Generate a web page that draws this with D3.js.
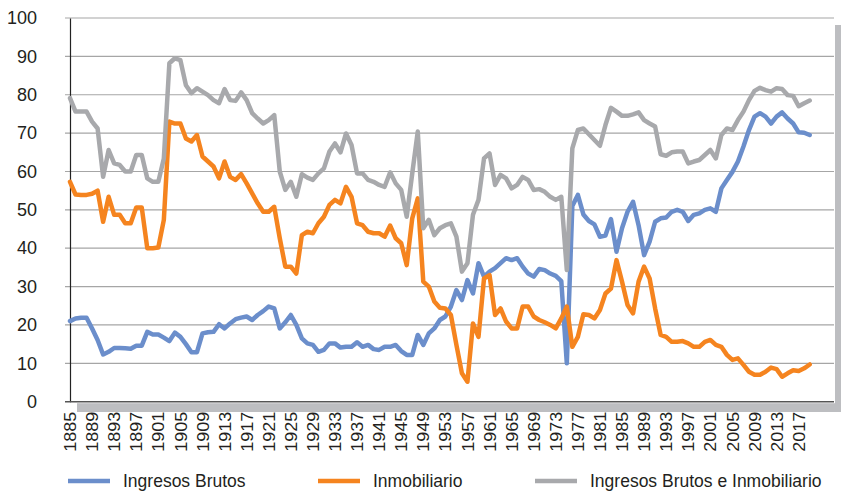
<!DOCTYPE html>
<html>
<head>
<meta charset="utf-8">
<script src="https://cdn.jsdelivr.net/npm/d3@7"></script>
<style>
  html, body { margin: 0; padding: 0; background: #fff; }
  svg { display: block; }
</style>
</head>
<body>
<div id="chart"></div>
<script>
// Años 1885–2019 (una observación por año)
const firstYear = 1885;
const lastYear = 2019;

const ingresosBrutos = [
  21.0, 21.7, 21.9, 21.9, 19.1, 16.1, 12.3, 13.0, 14.0, 14.0,
  13.9, 13.8, 14.6, 14.6, 18.2, 17.5, 17.5, 16.7, 15.8, 18.0,
  16.9, 15.0, 12.9, 12.9, 17.8, 18.1, 18.2, 20.2, 19.1, 20.4,
  21.5, 21.9, 22.2, 21.3, 22.6, 23.6, 24.8, 24.3, 19.1, 20.7,
  22.6, 20.0, 16.5, 15.2, 14.8, 13.0, 13.5, 15.2, 15.2, 14.1,
  14.3, 14.3, 15.5, 14.3, 14.8, 13.7, 13.5, 14.3, 14.3, 14.8,
  13.2, 12.2, 12.2, 17.4, 14.8, 17.8, 19.1, 21.3, 22.2, 24.8,
  29.1, 26.5, 31.7, 28.2, 36.1, 32.6, 33.9, 34.8, 36.1, 37.4,
  36.9, 37.4, 35.2, 33.4, 32.6, 34.6, 34.3, 33.4, 32.8, 31.4,
  10.0, 51.0, 53.9, 48.8, 47.1, 46.2, 43.0, 43.3, 47.6, 39.1,
  45.2, 49.5, 52.1, 46.0, 38.2, 41.7, 46.9, 47.8, 48.0, 49.5,
  50.0, 49.5, 47.1, 48.7, 49.1, 50.0, 50.4, 49.5, 55.6, 57.8,
  59.9, 62.6, 66.5, 70.8, 74.3, 75.2, 74.3, 72.5, 74.3, 75.4,
  73.8, 72.5, 70.2, 70.1, 69.5
];

const inmobiliario = [
  57.3, 54.0, 53.9, 53.9, 54.2, 55.0, 46.9, 53.4, 48.7, 48.7,
  46.5, 46.5, 50.6, 50.6, 40.0, 40.0, 40.2, 47.4, 73.0, 72.5,
  72.5, 68.6, 67.8, 69.5, 63.9, 62.6, 61.3, 58.2, 62.6, 58.6,
  57.8, 59.3, 56.9, 54.3, 51.7, 49.5, 49.5, 50.8, 42.6, 35.2,
  35.2, 33.4, 43.4, 44.3, 43.9, 46.5, 48.2, 51.3, 52.6, 51.7,
  56.0, 53.4, 46.5, 46.0, 44.3, 43.9, 43.9, 43.0, 45.9, 42.6,
  41.3, 35.6, 47.8, 53.0, 31.3, 30.0, 26.1, 24.5, 24.3, 22.6,
  14.8, 7.4, 5.2, 20.4, 16.9, 32.1, 33.0, 22.6, 24.3, 20.9,
  19.1, 19.1, 24.8, 24.8, 22.2, 21.3, 20.7, 20.0, 19.1, 21.7,
  24.8, 14.3, 16.9, 22.8, 22.6, 21.7, 23.9, 28.2, 29.5, 36.9,
  31.3, 25.2, 23.0, 31.3, 35.2, 32.1, 24.3, 17.4, 16.9, 15.6,
  15.6, 15.8, 15.2, 14.3, 14.3, 15.6, 16.1, 14.8, 14.3, 12.2,
  10.9, 11.3, 9.6, 7.8, 7.0, 7.0, 7.8, 8.9, 8.5, 6.5,
  7.4, 8.2, 8.0, 8.7, 9.7
];

const ambos = [
  79.1, 75.6, 75.6, 75.6, 73.0, 71.2, 58.6, 65.6, 62.1, 61.7,
  60.0, 60.0, 64.3, 64.3, 58.2, 57.3, 57.3, 63.4, 88.2, 89.5,
  89.0, 82.5, 80.4, 81.7, 80.8, 79.9, 78.6, 77.8, 81.5, 78.6,
  78.4, 80.6, 78.6, 75.2, 73.8, 72.5, 73.4, 74.7, 60.0, 55.2,
  57.3, 53.4, 59.3, 58.4, 57.8, 59.5, 60.8, 65.2, 67.3, 65.0,
  69.9, 66.9, 59.5, 59.5, 57.8, 57.3, 56.5, 56.0, 59.8, 56.9,
  55.2, 48.2, 59.5, 70.4, 45.2, 47.4, 43.4, 45.2, 46.0, 46.5,
  43.0, 33.9, 36.1, 48.7, 52.6, 63.4, 64.7, 56.5, 59.1, 58.2,
  55.6, 56.5, 58.6, 57.8, 55.2, 55.4, 54.7, 53.4, 52.6, 53.4,
  34.3, 66.0, 70.8, 71.2, 69.7, 68.2, 66.7, 72.1, 76.6, 75.6,
  74.5, 74.5, 74.9, 75.4, 73.4, 72.5, 71.7, 64.5, 64.1, 65.0,
  65.2, 65.2, 62.1, 62.6, 63.0, 64.3, 65.6, 63.4, 69.5, 71.2,
  70.8, 73.4, 75.6, 78.6, 81.0, 81.8, 81.2, 80.8, 81.7, 81.5,
  79.9, 79.7, 77.0, 77.8, 78.5
];

const tickYears = [
  1885, 1889, 1893, 1897, 1901, 1905, 1909, 1913, 1917, 1921, 1925,
  1929, 1933, 1937, 1941, 1945, 1949, 1953, 1957, 1961, 1965, 1969,
  1973, 1977, 1981, 1985, 1989, 1993, 1997, 2001, 2005, 2009, 2013, 2017
];
const yTicks = [0, 10, 20, 30, 40, 50, 60, 70, 80, 90, 100];

const seriesNames = ["Ingresos Brutos", "Inmobiliario", "Ingresos Brutos e Inmobiliario"];
const seriesColors = ["#6b8ecb", "#f5841f", "#a8a9ac"];
const seriesValues = [ingresosBrutos, inmobiliario, ambos];

const years = d3.range(firstYear, lastYear + 1);
const series = seriesNames.map((name, i) => ({
  name,
  color: seriesColors[i],
  points: years.map((yr, j) => ({ year: yr, value: seriesValues[i][j] }))
}));

const W = 841, H = 495;
const plot = { left: 70, right: 834, top: 18, bottom: 401.7 };
const font = "'Liberation Sans', Arial, sans-serif";

const svg = d3.select("#chart").append("svg")
  .attr("width", W)
  .attr("height", H);

const x = d3.scaleLinear()
  .domain([firstYear, lastYear])
  .range([plot.left, 809.7]);

const y = d3.scaleLinear()
  .domain([0, 100])
  .range([plot.bottom, plot.top]);

// Sombra del área de gráfico
svg.append("rect")
  .attr("x", plot.right + 1).attr("y", 25)
  .attr("width", W - plot.right - 1).attr("height", 412 - 25)
  .attr("fill", "#bdbec1");
svg.append("rect")
  .attr("x", 77).attr("y", plot.bottom + 1.5)
  .attr("width", W - 77).attr("height", 412 - plot.bottom - 1.5)
  .attr("fill", "#bdbec1");

// Grilla horizontal
svg.append("g")
  .selectAll("line")
  .data(yTicks.filter(d => d > 0))
  .join("line")
  .attr("x1", plot.left - 5).attr("x2", plot.right)
  .attr("y1", d => y(d)).attr("y2", d => y(d))
  .attr("stroke", "#a6a6a6")
  .attr("stroke-width", 1.2);

// Eje Y
const yAxis = svg.append("g")
  .attr("transform", `translate(${plot.left},0)`)
  .call(d3.axisLeft(y).tickValues(yTicks).tickSize(0).tickPadding(33));
yAxis.select(".domain")
  .attr("stroke", "#222")
  .attr("stroke-width", 1.2);
yAxis.selectAll("text")
  .attr("font-family", font)
  .attr("font-size", "18px")
  .attr("fill", "#231f20");

// Eje X
svg.append("line")
  .attr("x1", plot.left - 5).attr("x2", plot.right)
  .attr("y1", plot.bottom).attr("y2", plot.bottom)
  .attr("stroke", "#555")
  .attr("stroke-width", 1.6);

const xAxis = svg.append("g")
  .attr("transform", `translate(0,${plot.bottom})`)
  .call(d3.axisBottom(x).tickValues(tickYears).tickFormat(d3.format("d")).tickSize(0));
xAxis.select(".domain").remove();
xAxis.selectAll("text")
  .attr("font-family", font)
  .attr("font-size", "16px")
  .attr("fill", "#231f20")
  .attr("text-anchor", "end")
  .attr("transform", "rotate(-90)")
  .attr("x", -10)
  .attr("y", 0)
  .attr("dy", "0.35em")
  .attr("textLength", 40)
  .attr("lengthAdjust", "spacingAndGlyphs");

// Líneas
const line = d3.line()
  .x(d => x(d.year))
  .y(d => y(d.value));

svg.append("g")
  .selectAll("path")
  .data(series)
  .join("path")
  .attr("d", d => line(d.points))
  .attr("fill", "none")
  .attr("stroke", d => d.color)
  .attr("stroke-width", 4.5)
  .attr("stroke-linejoin", "round")
  .attr("stroke-linecap", "round");

// Leyenda
const legendX = [68, 318, 535];
const legend = svg.append("g")
  .selectAll("g")
  .data(series)
  .join("g")
  .attr("transform", (d, i) => `translate(${legendX[i]},481)`);

legend.append("line")
  .attr("x1", 0).attr("x2", 42)
  .attr("y1", 0).attr("y2", 0)
  .attr("stroke", d => d.color)
  .attr("stroke-width", 4.5);

legend.append("text")
  .attr("x", 55)
  .attr("dy", "0.35em")
  .attr("font-family", font)
  .attr("font-size", "17.5px")
  .attr("fill", "#231f20")
  .text(d => d.name);
</script>
</body>
</html>
